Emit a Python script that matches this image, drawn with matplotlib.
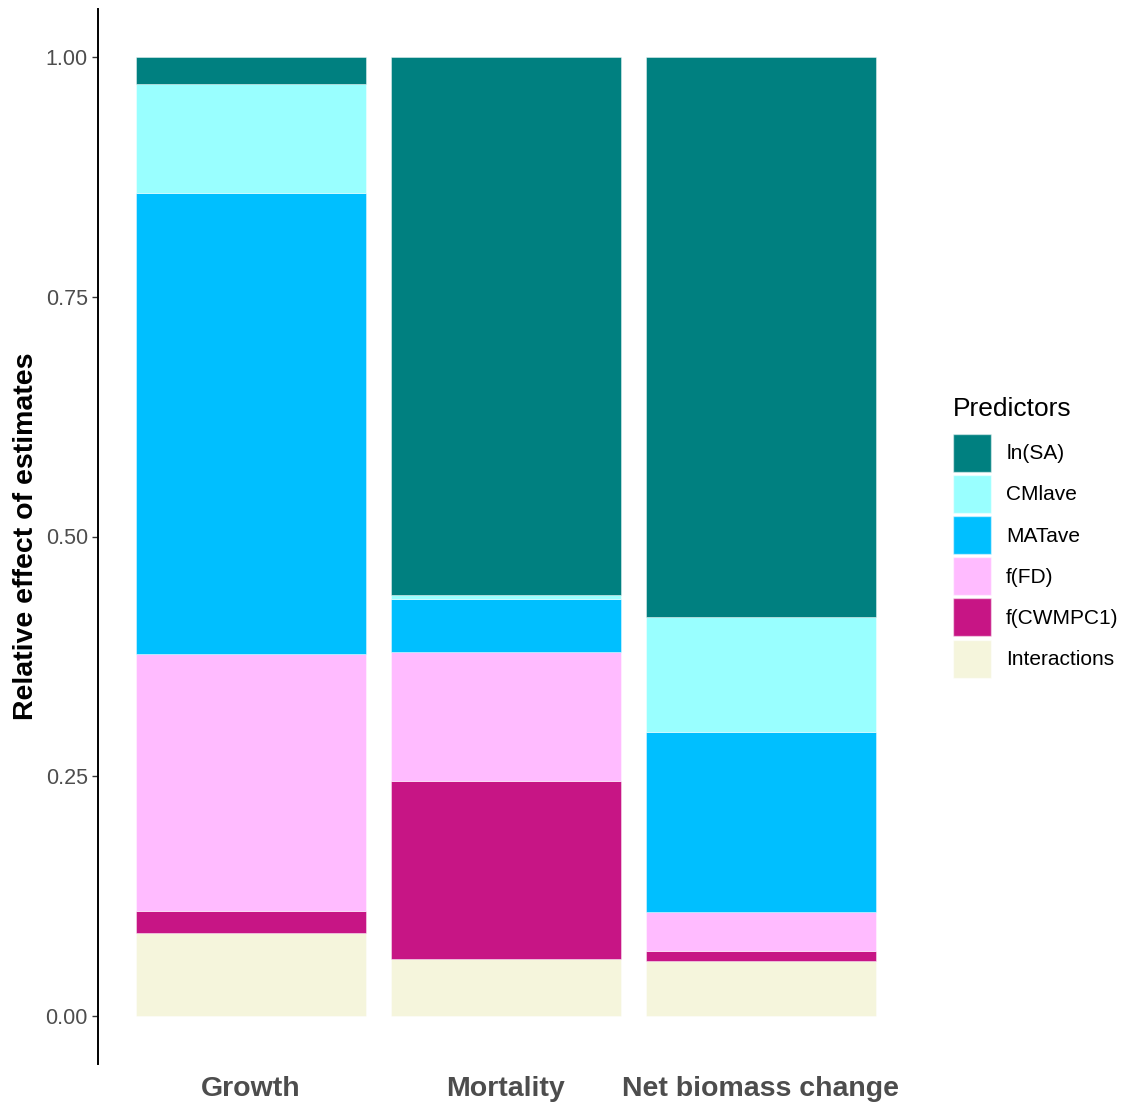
import numpy as np
import matplotlib.pyplot as plt
from matplotlib.patches import Patch

plt.rcParams['font.family'] = ['Liberation Sans', 'DejaVu Sans']

# responses on the x axis
responses = ["Growth", "Mortality", "Net biomass change"]

# predictor shares, bottom to top of the stack
predictors = ["Interactions", "f(CWMPC1)", "f(FD)", "MATave", "CMlave", "ln(SA)"]
interactions = [0.087, 0.060, 0.057]
f_cwmpc1 = [0.023, 0.185, 0.011]
f_fd = [0.267, 0.135, 0.040]
matave = [0.481, 0.055, 0.188]
cmlave = [0.114, 0.004, 0.120]
ln_sa = [0.028, 0.561, 0.584]

colors = {
    "ln(SA)": "#008080",
    "CMlave": "#99FFFF",
    "MATave": "#00BFFF",
    "f(FD)": "#FFBBFF",
    "f(CWMPC1)": "#C71585",
    "Interactions": "#F5F5DC",
}

series = [interactions, f_cwmpc1, f_fd, matave, cmlave, ln_sa]

fig = plt.figure(figsize=(11.31, 11.04), dpi=100)
ax = fig.add_axes([98/1131, 40/1104, (914-98)/1131, (1064-9)/1104])

x = np.arange(1, len(responses) + 1)
bottom = np.zeros(len(responses))
for name, vals in zip(predictors, series):
    ax.bar(x, vals, width=0.9, bottom=bottom, color=colors[name],
           edgecolor=(1, 1, 1, 0.5), linewidth=0.6)
    bottom += np.array(vals)

ax.set_xlim(0.4, 3.6)
ax.set_ylim(-0.05, 1.05)
ax.set_yticks([0, 0.25, 0.5, 0.75, 1.0])
ax.set_yticklabels(["0.00", "0.25", "0.50", "0.75", "1.00"])
ax.set_xticks(x)
ax.set_xticklabels(responses, fontsize=20.5, fontweight="bold", color="#4D4D4D")
ax.tick_params(axis="x", length=0, pad=9)
ax.tick_params(axis="y", length=4.3, width=1, color="#333333",
               labelsize=15.5, labelcolor="#4D4D4D", pad=3)
for s in ["top", "right", "bottom"]:
    ax.spines[s].set_visible(False)
ax.spines["left"].set_linewidth(1.4)
ax.set_ylabel("Relative effect of estimates", fontsize=20.5, fontweight="bold", labelpad=5)

# legend, top to bottom as in the stack
handles = [Patch(facecolor=colors[p], edgecolor=(1, 1, 1, 0.5)) for p in predictors[::-1]]
leg = fig.legend(handles, predictors[::-1], loc="upper left",
                 bbox_to_anchor=(945/1131, 1 - 389/1104), frameon=False,
                 title="Predictors", title_fontsize=19, fontsize=15,
                 handlelength=1.82, handleheight=2.43, labelspacing=0.15,
                 handletextpad=0.72, borderaxespad=0)
leg._legend_box.align = "left"
leg._legend_box.sep = 9

fig.savefig("out.png", dpi=100)
